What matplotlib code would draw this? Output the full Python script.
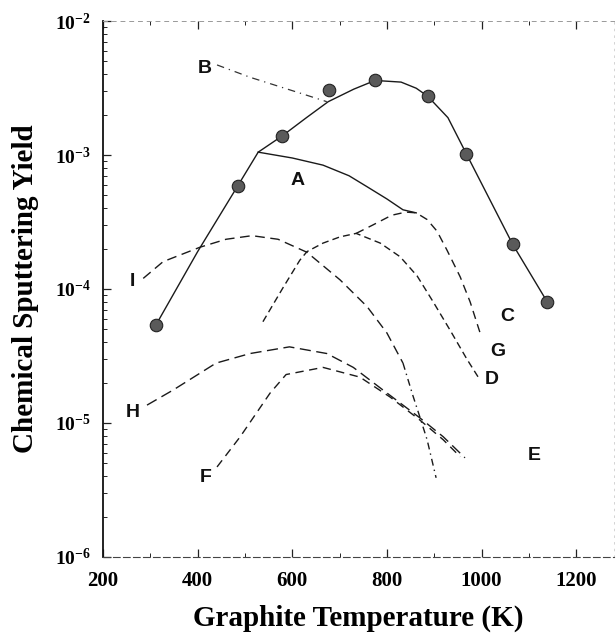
import matplotlib
matplotlib.use('Agg')
import matplotlib.pyplot as plt
from matplotlib.ticker import FixedLocator, LogLocator, NullFormatter

plt.rcParams['mathtext.fontset'] = 'custom'
plt.rcParams['mathtext.rm'] = 'Liberation Serif:bold'
plt.rcParams['mathtext.it'] = 'Liberation Serif:bold'
plt.rcParams['mathtext.bf'] = 'Liberation Serif:bold'

# measured points (circles) and the fitted curve through them
circ_T = [312, 485, 579, 678, 775, 886, 968, 1066, 1139]
circ_Y = [5.4e-5, 5.9e-4, 1.39e-3, 3.05e-3, 3.6e-3, 2.75e-3, 1.02e-3, 2.15e-4, 8.0e-5]
fit_T = [312, 400, 485, 528, 579, 630, 676, 730, 775, 830, 862, 886, 929, 968, 1066, 1139]
fit_Y = [5.4e-5, 1.9e-4, 5.9e-4, 1.05e-3, 1.39e-3, 1.9e-3, 2.5e-3, 3.1e-3, 3.6e-3, 3.5e-3, 3.15e-3, 2.75e-3, 1.9e-3, 1.02e-3, 2.15e-4, 8.0e-5]

# curve A (solid)
A_T = [528, 600, 665, 720, 758, 800, 834, 862]
A_Y = [1.05e-3, 9.5e-4, 8.4e-4, 7.0e-4, 5.8e-4, 4.7e-4, 3.9e-4, 3.7e-4]
# curve B (dash-dot)
B_T = [441, 511, 560, 616, 673]
B_Y = [4.7e-3, 3.8e-3, 3.35e-3, 2.9e-3, 2.5e-3]
# curve D (rises, peaks, falls to D)
D_T = [538, 581, 616, 631, 665, 701, 735, 786, 828, 864, 898, 934, 969, 993]
D_Y = [5.7e-5, 1.03e-4, 1.64e-4, 1.9e-4, 2.2e-4, 2.45e-4, 2.6e-4, 2.2e-4, 1.74e-4, 1.25e-4, 8.0e-5, 4.9e-5, 3.0e-5, 2.2e-5]
# curve C/G branch (from D peak up to A end, then down)
C_T = [735, 770, 810, 840, 862, 885, 906, 927, 955, 976, 997]
C_Y = [2.6e-4, 3.0e-4, 3.55e-4, 3.75e-4, 3.7e-4, 3.3e-4, 2.7e-4, 1.95e-4, 1.23e-4, 8.0e-5, 4.7e-5]
# curve I
I_T = [285, 327, 405, 460, 515, 570, 631, 701, 758, 800, 834]
I_Y = [1.2e-4, 1.6e-4, 2.05e-4, 2.35e-4, 2.5e-4, 2.35e-4, 1.88e-4, 1.17e-4, 7.4e-5, 4.7e-5, 2.8e-5]
I2_T = [834, 855, 870, 885, 904]
I2_Y = [2.8e-5, 1.6e-5, 1.1e-5, 7.5e-6, 3.9e-6]
# curve H
H_T = [293, 348, 439, 511, 594, 673, 729, 792, 870, 919, 965]
H_Y = [1.36e-5, 1.76e-5, 2.8e-5, 3.3e-5, 3.7e-5, 3.3e-5, 2.6e-5, 1.76e-5, 1.09e-5, 7.9e-6, 5.5e-6]
# curve F
F_T = [441, 490, 553, 587, 665, 743, 807, 870, 919, 955]
F_Y = [4.7e-6, 7.9e-6, 1.67e-5, 2.3e-5, 2.6e-5, 2.2e-5, 1.56e-5, 1.05e-5, 7.5e-6, 5.6e-6]

labels = ['A', 'B', 'C', 'D', 'E', 'F', 'G', 'H', 'I']
label_T = [612, 416, 1054, 1022, 1111, 416, 1035, 263, 263]
label_Y = [6.5e-4, 4.45e-3, 6.2e-5, 2.1e-5, 5.7e-6, 3.9e-6, 3.4e-5, 1.2e-5, 1.13e-4]

x_ticks = [200, 400, 600, 800, 1000, 1200]
y_ticks = [1e-6, 1e-5, 1e-4, 1e-3, 1e-2]
y_tick_labels = [r'$10^{-6}$', r'$10^{-5}$', r'$10^{-4}$', r'$10^{-3}$', r'$10^{-2}$']

fig = plt.figure(figsize=(6.16, 6.44), dpi=100)
ax = fig.add_axes([103 / 616, 87 / 644, 511 / 616, 536 / 644])
ax.set_yscale('log')

k = '#1a1a1a'
ax.plot(fit_T, fit_Y, color=k, lw=1.0)
ax.plot(circ_T, circ_Y, 'o', ms=9, mfc='#5a5a5a', mec='#222222', mew=0.8)
ax.plot(A_T, A_Y, color=k, lw=1.0)
ax.plot(B_T, B_Y, color='#333333', lw=0.9, dashes=(6, 4, 1, 4))
ax.plot(D_T, D_Y, color=k, lw=1.0, dashes=(5, 3))
ax.plot(C_T, C_Y, color=k, lw=1.0, dashes=(6, 4))
ax.plot(I_T, I_Y, color=k, lw=1.0, dashes=(7, 4))
ax.plot(I2_T, I2_Y, color=k, lw=1.0, dashes=(5, 3, 1, 3))
ax.plot(H_T, H_Y, color=k, lw=1.0, dashes=(8, 4))
ax.plot(F_T, F_Y, color=k, lw=1.0, dashes=(6, 4))

for lab, t, y in zip(labels, label_T, label_Y):
    ax.text(t, y, lab, fontsize=14, fontweight='bold', family='Liberation Sans',
            ha='center', va='center', color='#111111')

ax.set_xlim(200, 1280)
ax.set_ylim(1e-6, 1e-2)

ax.xaxis.set_major_locator(FixedLocator(x_ticks))
ax.set_xticklabels([str(t) for t in x_ticks], fontsize=15, fontweight='bold',
                   family='Liberation Serif')
ax.xaxis.set_minor_locator(FixedLocator(list(range(300, 1280, 200))))
ax.yaxis.set_major_locator(FixedLocator(y_ticks))
ax.set_yticklabels(y_tick_labels, fontsize=14)
ax.yaxis.set_minor_locator(LogLocator(base=10, subs=range(2, 10)))
ax.yaxis.set_minor_formatter(NullFormatter())

ax.tick_params(which='both', direction='in', top=True, right=False, color='#222222')
ax.tick_params(which='major', length=6, width=0.9)
ax.tick_params(which='minor', length=3, width=0.7)
ax.tick_params(axis='x', pad=10)
ax.tick_params(axis='y', pad=9)

ax.spines['left'].set_linewidth(1.3)
ax.spines['left'].set_color('#111111')
ax.spines['bottom'].set_linewidth(0.8)
ax.spines['bottom'].set_color('#444444')
ax.spines['bottom'].set_linestyle((0, (6, 3)))
ax.spines['top'].set_linewidth(0.7)
ax.spines['top'].set_color('#999999')
ax.spines['top'].set_linestyle((0, (4, 5)))
ax.spines['right'].set_linewidth(0.6)
ax.spines['right'].set_color('#cccccc')
ax.spines['right'].set_linestyle((0, (2, 6)))

ax.set_xlabel('Graphite Temperature (K)', fontsize=21, fontweight='bold',
              family='Liberation Serif', labelpad=10)
ax.set_ylabel('Chemical Sputtering Yield', fontsize=21, fontweight='bold',
              family='Liberation Serif', labelpad=11)

fig.savefig('out.png', dpi=100)
